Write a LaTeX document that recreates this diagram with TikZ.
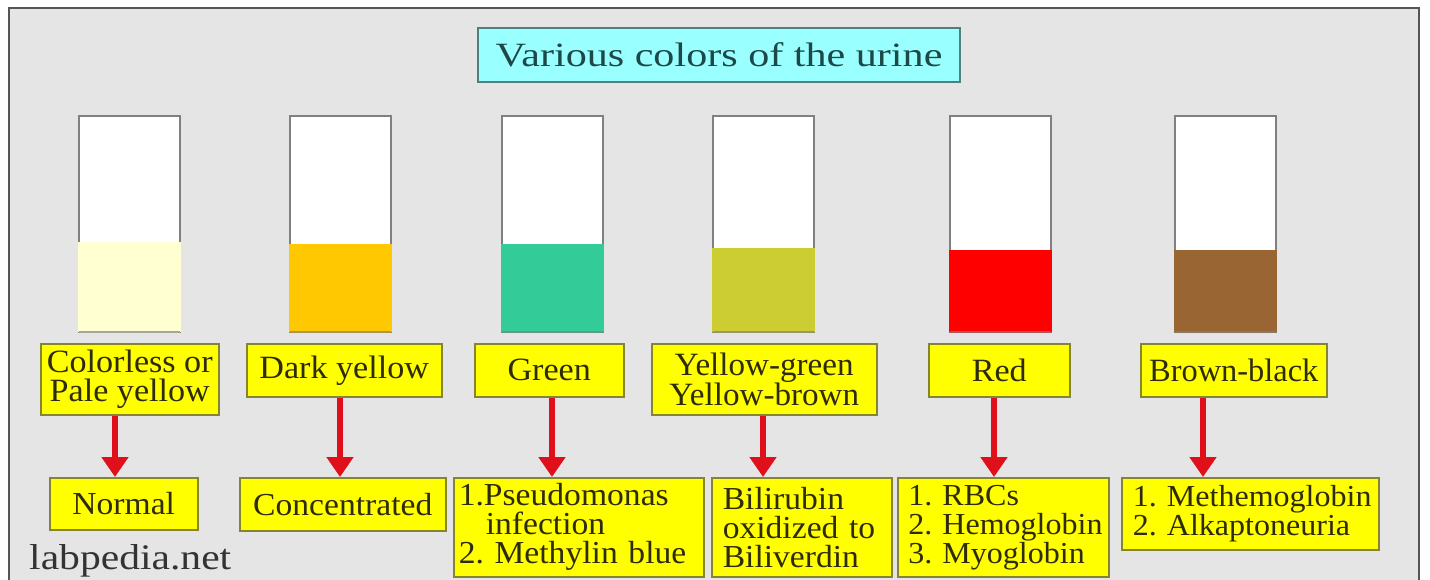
\documentclass[tikz,border=0pt]{standalone}
\usepackage{fontspec}
\setmainfont{Liberation Serif}[FakeStretch=1.05]
\usetikzlibrary{arrows.meta,calc}
\definecolor{bgc}{HTML}{E5E5E5}
\definecolor{framec}{HTML}{555555}
\definecolor{titlefill}{HTML}{99FFFF}
\definecolor{titletext}{HTML}{1C4848}
\definecolor{titleborder}{HTML}{4F7F7F}
\definecolor{boxfill}{HTML}{FFFF00}
\definecolor{boxborder}{HTML}{858530}
\definecolor{boxtext}{HTML}{2E2C08}
\definecolor{tubeborder}{HTML}{808080}
\definecolor{arrowc}{HTML}{E0101A}
\definecolor{c1}{HTML}{FFFFD2}
\definecolor{c2}{HTML}{FFC800}
\definecolor{c3}{HTML}{33CC99}
\definecolor{c4}{HTML}{CCCC33}
\definecolor{c5}{HTML}{FF0000}
\definecolor{c6}{HTML}{996633}
\tikzset{
  tube/.style={draw=tubeborder, line width=1.8pt, fill=white},
  lab/.style={draw=boxborder, line width=1.5pt, fill=boxfill, text=boxtext,
    inner sep=0pt, anchor=north west, align=center,
    font=\fontsize{32.5}{29}\selectfont\frenchspacing},
  res/.style={draw=boxborder, line width=1.5pt, fill=boxfill, text=boxtext,
    inner ysep=0pt, anchor=north west,
    font=\fontsize{32}{29}\selectfont\frenchspacing},
  ressmall/.style={font=\fontsize{30.5}{29}\selectfont\frenchspacing},
  resc/.style={res, inner sep=0pt, align=center},
  resl/.style={res, inner xsep=10pt, align=left},
  arr/.style={draw=arrowc, line width=6.5pt, -{Triangle[width=26pt,length=20pt]}},
}
\newcommand{\tubeat}[3]{%
  \draw[tube] (#1,116) rectangle ++(101,216);
  \fill[#3] (#1-0.9,#2) rectangle (#1+101.9,332);
  \draw[tubeborder!70!#3, line width=1.2pt] (#1,332) -- ++(101,0);
}
\begin{document}
\begin{tikzpicture}[x=1pt,y=-1pt]
\useasboundingbox (0,0) rectangle (1430,579);
\fill[white] (0,0) rectangle (1430,579);
\begin{scope}
\clip (0,0) rectangle (1430,579);
\draw[fill=bgc, draw=framec, line width=1.5pt] (9,8) rectangle (1419,600);
\end{scope}
% title
\node[draw=titleborder, line width=1.5pt, fill=titlefill, text=titletext,
  minimum width=482pt, minimum height=54pt, inner sep=0pt,
  font=\fontsize{34}{34}\selectfont] (title) at (719,55) {\scalebox{1.18}[1]{Various colors of the urine}};
% tubes
\tubeat{79}{242}{c1}
\tubeat{290}{244}{c2}
\tubeat{502}{244}{c3}
\tubeat{713}{248}{c4}
\tubeat{950}{250}{c5}
\tubeat{1175}{250}{c6}
% labels
\node[lab, minimum width=178pt, minimum height=71pt] (lab1) at (40,343) {Colorless or\\Pale yellow};
\node[lab, minimum width=195pt, minimum height=53pt] (lab2) at (246,343) {Dark yellow};
\node[lab, minimum width=149pt, minimum height=53pt] (lab3) at (474,343) {Green};
\node[lab, minimum width=225pt, minimum height=71pt] (lab4) at (651,343) {\scalebox{0.97}[1]{Yellow-green}\\\scalebox{0.97}[1]{Yellow-brown}};
\node[lab, minimum width=141pt, minimum height=53pt] (lab5) at (928,343) {Red};
\node[lab, minimum width=186pt, minimum height=53pt] (lab6) at (1140,343) {\scalebox{0.95}[1]{Brown-black}};
% results
\node[resc, minimum width=148pt, minimum height=52pt] (res1) at (49,477) {Normal};
\node[resc, minimum width=206pt, minimum height=53pt] (res2) at (239,477) {Concentrated};
\node[resl, minimum width=250pt, minimum height=99pt, text width=240pt, inner xsep=5pt] (res3) at (453,477) {\mbox{1.Pseudomonas}\\\hspace*{27pt}infection\\2.~Methylin~blue};
\node[resl, minimum width=180pt, minimum height=99pt, text width=158pt, inner xsep=11pt] (res4) at (711,477) {\mbox{Bilirubin}\\oxidized~to\\\mbox{Biliverdin}};
\node[resl, ressmall, minimum width=211pt, minimum height=99pt, text width=190pt, inner xsep=10.5pt] (res5) at (897,477) {1.~RBCs\\2.~\mbox{Hemoglobin}\\3.~\mbox{Myoglobin}};
\node[resl, ressmall, minimum width=257pt, minimum height=72pt, text width=235pt, inner xsep=11pt] (res6) at (1121,477) {1.~\mbox{Methemoglobin}\\2.~\mbox{Alkaptoneuria}};
% arrows
\coordinate (a1) at (115,0);
\coordinate (a2) at (340,0);
\coordinate (a3) at (552,0);
\coordinate (a4) at (763,0);
\coordinate (a5) at (994,0);
\coordinate (a6) at (1203,0);
\foreach \i in {1,...,6}{
  \draw[arr] (lab\i.south -| a\i) -- (res\i.north -| a\i);
}
% watermark
\node[anchor=base west, inner sep=0pt, text=black!80, font=\fontsize{36}{36}\selectfont] (web) at (29,569) {\scalebox{1.1}[1]{labpedia.net}};
\end{tikzpicture}
\end{document}
